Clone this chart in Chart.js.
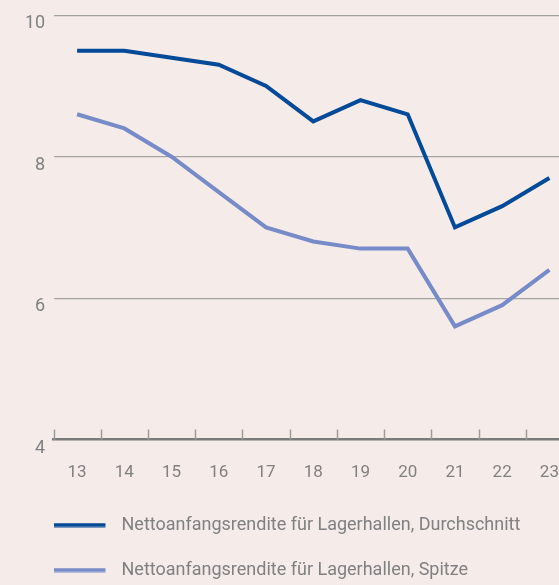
<!DOCTYPE html>
<html>
<head>
<meta charset="utf-8">
<script src="https://cdn.jsdelivr.net/npm/chart.js@4"></script>
<style>
    html, body { margin: 0; padding: 0; background: #f5ecea; overflow: hidden; }
    #wrap { width: 573px; height: 589px; }
</style>
</head>
<body>
<div id="wrap"><canvas id="myChart" width="573" height="589"></canvas></div>
<script>
(function(){

    // values
    var years = ['13', '14', '15', '16', '17', '18', '19', '20', '21', '22', '23'];
    var durchschnitt = [9.5, 9.5, 9.4, 9.3, 9.0, 8.5, 8.8, 8.6, 7.0, 7.3, 7.7];
    var spitze = [8.6, 8.4, 8.0, 7.5, 7.0, 6.8, 6.7, 6.7, 5.6, 5.9, 6.4];
    var yTicks = [4, 6, 8, 10];
    var seriesNames = [
        'Nettoanfangsrendite für Lagerhallen, Durchschnitt',
        'Nettoanfangsrendite für Lagerhallen, Spitze'
    ];

    var darkBlue = '#034a98';
    var lightBlue = '#778bc8';
    var textGray = '#808080';
    var fontFamily = 'Roboto, "Liberation Sans", sans-serif';

    // legend sample: a short line with empty room after it, so text sits where it should
    function legendLine(color) {
        var c = document.createElement('canvas');
        c.width = 59;
        c.height = 5;
        var g = c.getContext('2d');
        g.fillStyle = color;
        g.fillRect(0, 0.5, 52, 4);
        return c;
    }

    // small upward ticks on the x axis, between the categories
    var tickMarks = {
        id: 'tickMarks',
        afterDraw: function (chart) {
            var sx = chart.scales.x;
            var bottom = chart.chartArea.bottom;
            var ctx = chart.ctx;
            ctx.save();
            ctx.strokeStyle = '#9c9c9c';
            ctx.lineWidth = 1.5;
            for (var i = 0; i <= years.length; i++) {
                var px = Math.round(sx.getPixelForValue(i - 0.5)) + 0.5;
                ctx.beginPath();
                ctx.moveTo(px, bottom - 10);
                ctx.lineTo(px, bottom);
                ctx.stroke();
            }
            ctx.restore();
        }
    };

    var data = {
        labels: years,
        datasets: [{
            label: seriesNames[0],
            data: durchschnitt,
            borderColor: darkBlue,
            backgroundColor: darkBlue,
            borderWidth: 4,
            pointRadius: 0,
            pointStyle: legendLine(darkBlue),
            tension: 0
        }, {
            label: seriesNames[1],
            data: spitze,
            borderColor: lightBlue,
            backgroundColor: lightBlue,
            borderWidth: 4,
            pointRadius: 0,
            pointStyle: legendLine(lightBlue),
            tension: 0
        }]
    };

    var ctx = document.getElementById('myChart').getContext('2d');
    var chart = new Chart(ctx, {
        type: 'line',
        data: data,
        plugins: [tickMarks],
        options: {
            responsive: false,
            animation: false,
            layout: {
                padding: { left: 26.5, top: 15.3, right: 0, bottom: 0 }
            },
            plugins: {
                tooltip: { enabled: false },
                legend: {
                    position: 'bottom',
                    align: 'start',
                    labels: {
                        usePointStyle: true,
                        pointStyleWidth: 59,
                        padding: 27,
                        color: textGray,
                        font: { family: fontFamily, size: 18 }
                    }
                }
            },
            scales: {
                x: {
                    type: 'category',
                    offset: true,
                    afterFit: function (scale) {
                        scale.height = 49.5;
                        scale.paddingLeft = 0;
                        scale.paddingRight = 0;
                    },
                    grid: { display: false, drawTicks: false, offset: true },
                    border: { display: true, color: '#7b7b7b', width: 2.5 },
                    ticks: {
                        color: textGray,
                        font: { family: fontFamily, size: 17 },
                        padding: 23,
                        autoSkip: false,
                        maxRotation: 0
                    }
                },
                y: {
                    min: 4,
                    max: 10,
                    afterBuildTicks: function (scale) {
                        scale.ticks = yTicks.map(function (v) { return { value: v }; });
                    },
                    afterFit: function (scale) {
                        scale.width = 27;
                        scale.paddingTop = 0;
                        scale.paddingBottom = 0;
                    },
                    grid: {
                        drawTicks: false,
                        lineWidth: 1.2,
                        color: function (c) {
                            return c.tick && c.tick.value === 4 ? 'rgba(0,0,0,0)' : '#a5a3a2';
                        }
                    },
                    border: { display: false },
                    ticks: {
                        color: textGray,
                        font: { family: fontFamily, size: 18 },
                        padding: 8.5,
                        labelOffset: 8.5
                    }
                }
            }
        }
    });

})();
</script>
</body>
</html>
